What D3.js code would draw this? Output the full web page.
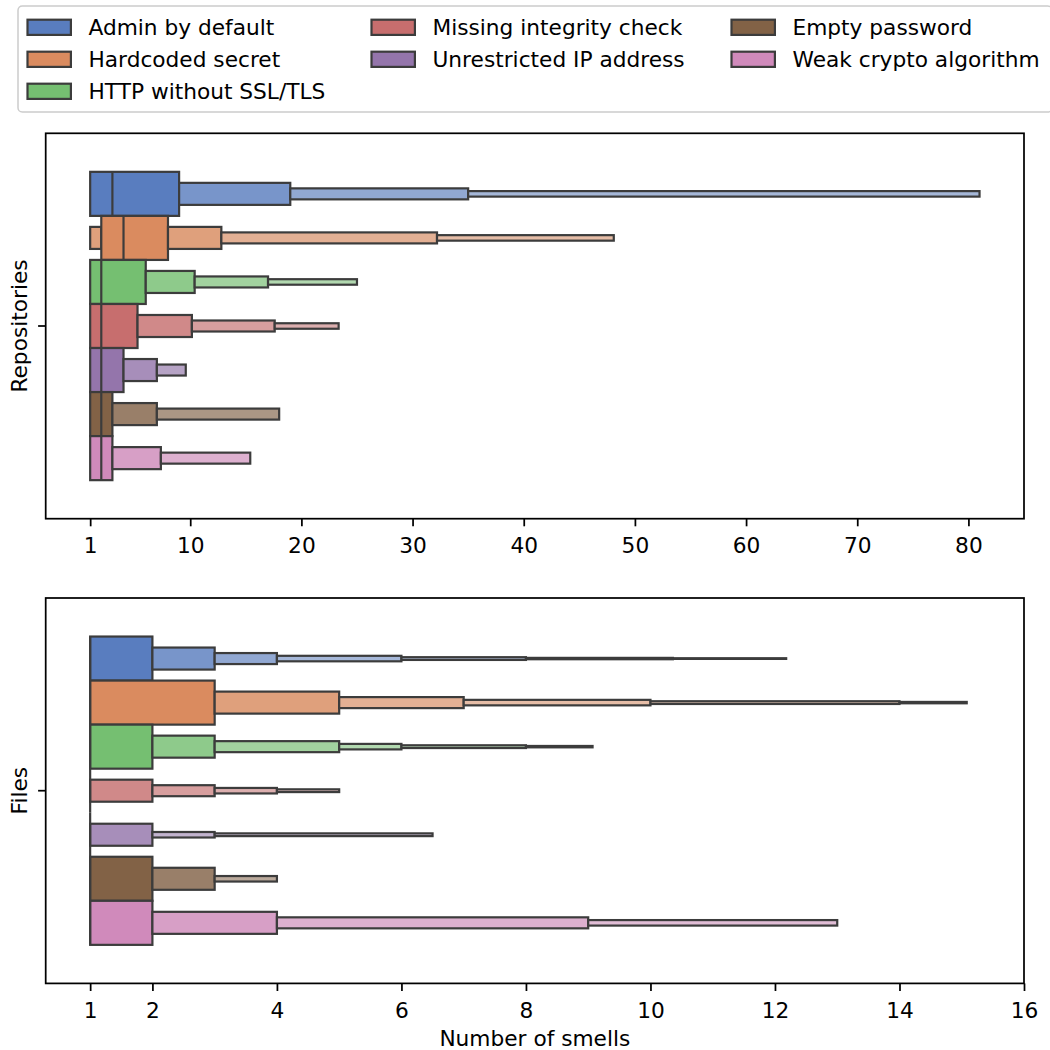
<!DOCTYPE html>
<html><head><meta charset="utf-8">
<script src="https://cdn.jsdelivr.net/npm/d3@7"></script>
<style>
body{margin:0;background:#fff}
svg{display:block}
text{font-family:"DejaVu Sans",sans-serif;fill:#000}
</style>
</head><body>
<svg id="chart" width="1050" height="1050"></svg>
<script>
// ---------------- DATA ----------------
const hueLabels = ["Admin by default","Hardcoded secret","HTTP without SSL/TLS",
  "Missing integrity check","Unrestricted IP address","Empty password","Weak crypto algorithm"];
const paletteHex = ["#4878d0","#ee854a","#6acc64","#d65f5f","#956cb4","#8c613c","#dc7ec0"];

// Repositories panel: letter values (lower: outermost -> Q1, upper: Q3 -> outermost)
const repoMedian = [3, 4, 2, 2, 2, 2, 2];
const repoLower = [[1,1,1,1],[1,1,1,2],[1,1,1,1],[1,1,1,1],[1,1,1],[1,1,1],[1,1,1]];
const repoUpper = [[9,19,35,81],[8,12.8,32.2,48.1],[6,10.4,17,25],[5.26,10.15,17.6,23.35],
  [4,7,9.6],[3,7,18],[3,7.36,15.4]];
const repoTicks = [1,10,20,30,40,50,60,70,80];

// Files panel
const fileMedian = [1, 1, 1, 1, 1, 1, 1];
const fileLower = [[1,1,1,1,1,1,1],[1,1,1,1,1,1],[1,1,1,1,1,1],[1,1,1,1,1],[1,1,1,1,1],[1,1,1,1],[1,1,1,1]];
const fileUpper = [[2,3,4,6,8,10.36,12.18],[3,5,7,10,14,15.08],[2,3,5,6,8,9.07],
  [1,2,3,4,5],[1,2,2,3,6.5],[2,3,3,4],[2,4,9,13]];
const fileTicks = [1,2,4,6,8,10,12,14,16];

const panelLabels = ["Repositories","Files"];
const xLabel = "Number of smells";

// ---------------- COLOR HELPERS ----------------
function desat(hex, p){ const c = d3.hsl(hex); c.s *= p; return c.rgb(); }
const HM=[[3.240969941904521,-1.537383177570093,-0.498610760293],[-0.96924363628087,1.87596750150772,0.041555057407175],[0.055630079696993,-0.20397695888897,1.056971514242878]];
const HMi=[[0.41239079926595,0.35758433938387,0.18048078840183],[0.21263900587151,0.71516867876775,0.072192315360733],[0.019330818715591,0.11919477979462,0.95053215224966]];
const refU=0.19783000664283, refV=0.46831999493879, kappa=903.2962962, eps=0.0088564516;
function bounds(L){const s1=Math.pow(L+16,3)/1560896;const s2=s1>eps?s1:L/kappa;const r=[];
  for(const [m1,m2,m3] of HM){for(const t of [0,1]){
    const top1=(284517*m1-94839*m3)*s2;
    const top2=(838422*m3+769860*m2+731718*m1)*L*s2-769860*t*L;
    const bot=(632260*m3-126452*m2)*s2+126452*t; r.push([top1/bot,top2/bot]);}}
  return r;}
function maxC(L,H){const h=H/360*2*Math.PI;let m=Infinity;
  for(const [sl,ic] of bounds(L)){const len=ic/(Math.sin(h)-sl*Math.cos(h)); if(len>=0)m=Math.min(m,len);} return m;}
function rgb2husl(r,g,b){
  const lin=c=>c>0.04045?Math.pow((c+0.055)/1.055,2.4):c/12.92;
  const R=lin(r),G=lin(g),B=lin(b);
  const X=HMi[0][0]*R+HMi[0][1]*G+HMi[0][2]*B, Y=HMi[1][0]*R+HMi[1][1]*G+HMi[1][2]*B, Z=HMi[2][0]*R+HMi[2][1]*G+HMi[2][2]*B;
  const L=Y<=eps?Y*kappa:116*Math.cbrt(Y)-16;
  const d=X+15*Y+3*Z; const vu=4*X/d, vv=9*Y/d;
  const U=13*L*(vu-refU), V=13*L*(vv-refV);
  const C=Math.hypot(U,V); let H=Math.atan2(V,U)*180/Math.PI; if(H<0)H+=360;
  return [H, C/maxC(L,H)*100, L];}
function husl2rgb(H,S,L){
  const C=maxC(L,H)*S/100; const h=H/180*Math.PI; const U=C*Math.cos(h), V=C*Math.sin(h);
  const vu=U/(13*L)+refU, vv=V/(13*L)+refV;
  const Y=L<=8?L/kappa:Math.pow((L+16)/116,3);
  const X=9*Y*vu/(4*vv); const Z=(9*Y-15*vv*Y-vv*X)/(3*vv);
  const gam=c=>c<=0.0031308?12.92*c:1.055*Math.pow(c,1/2.4)-0.055;
  return HM.map(m=>Math.max(0,Math.min(1,gam(m[0]*X+m[1]*Y+m[2]*Z))));}

const mainColors = paletteHex.map(h => desat(h, 0.75));
const lightGrays = mainColors.map(c => {
  const [H,S] = rgb2husl(c.r/255,c.g/255,c.b/255);
  return husl2rgb(H, 0.15*S, 95).map(v=>v*255);
});
function boxColor(i, d){
  const t = Math.pow(2, -d/3), c = mainColors[i], g = lightGrays[i];
  return d3.rgb(g[0]+(c.r-g[0])*t, g[1]+(c.g-g[1])*t, g[2]+(c.b-g[2])*t).formatHex();
}
// edge gray: min HLS lightness * 0.6
const lineGray = (() => { const l = d3.min(mainColors, c => d3.hsl(c).l) * 0.6; const v = Math.round(l*255); return d3.rgb(v,v,v).formatHex(); })();

// ---------------- LAYOUT ----------------
const svg = d3.select("#chart");
const FS = 21.7, EDGE = 2.2;
const nH = hueLabels.length, slot = 0.8 / nH;
const panels = [
  {top:133.3, bottom:518.7, domain:[-3,85], ticks:repoTicks, med:repoMedian, lo:repoLower, up:repoUpper, label:panelLabels[0]},
  {top:598, bottom:983.4, domain:[0.286,16], ticks:fileTicks, med:fileMedian, lo:fileLower, up:fileUpper, label:panelLabels[1]}
];
const L = 45.7, R = 1024;

panels.forEach((p, pi) => {
  const x = d3.scaleLinear().domain(p.domain).range([L, R]);
  const y = d3.scaleLinear().domain([-0.5, 0.5]).range([p.top, p.bottom]);
  const g = svg.append("g");
  g.append("defs").append("clipPath").attr("id","clip"+pi)
    .append("rect").attr("x",L).attr("y",p.top).attr("width",R-L).attr("height",p.bottom-p.top);
  const plot = g.append("g").attr("clip-path",`url(#clip${pi})`);

  for (let i = 0; i < nH; i++) {
    const center = (i - (nH-1)/2) * slot;
    const vals = p.lo[i].concat(p.up[i]);
    const k = p.lo[i].length;
    const segs = [];
    for (let s = 0; s < vals.length - 1; s++) {
      const d = s < k-1 ? (k-1-s) : (s - (k-1));
      segs.push({lo: vals[s], hi: vals[s+1], d});
    }
    plot.selectAll(null).data(segs.filter(s => s.hi > s.lo)).enter().append("rect")
      .attr("x", s => x(s.lo))
      .attr("width", s => x(s.hi) - x(s.lo))
      .attr("y", s => y(center - slot*Math.pow(2,-s.d)/2))
      .attr("height", s => y(center + slot*Math.pow(2,-s.d)/2) - y(center - slot*Math.pow(2,-s.d)/2))
      .attr("fill", s => boxColor(i, s.d))
      .attr("stroke", lineGray).attr("stroke-width", EDGE);
    // median
    plot.append("line")
      .attr("x1", x(p.med[i])).attr("x2", x(p.med[i]))
      .attr("y1", y(center - slot/2)).attr("y2", y(center + slot/2))
      .attr("stroke", lineGray).attr("stroke-width", EDGE).attr("stroke-linecap","butt");
  }

  // x axis
  const ax = g.append("g").attr("transform", `translate(0,${p.bottom})`)
    .call(d3.axisBottom(x).tickValues(p.ticks).tickFormat(d3.format("d")).tickSize(7.6).tickPadding(7.6));
  ax.select(".domain").remove();
  ax.selectAll(".tick line").attr("stroke","#000").attr("stroke-width",1.74);
  ax.selectAll(".tick text").attr("font-size",FS).attr("font-family","DejaVu Sans").attr("fill","#000").attr("dy","0.9em");
  // y tick
  const yc = y(0);
  g.append("line").attr("x1",L-7.6).attr("x2",L).attr("y1",yc).attr("y2",yc).attr("stroke","#000").attr("stroke-width",1.74);
  // frame
  g.append("rect").attr("x",L).attr("y",p.top).attr("width",R-L).attr("height",p.bottom-p.top)
    .attr("fill","none").attr("stroke","#000").attr("stroke-width",1.74);
  // y label
  g.append("text").attr("transform",`translate(27,${yc}) rotate(-90)`).attr("text-anchor","middle")
    .attr("font-size",FS).text(p.label);
});

// x label
svg.append("text").attr("x", (L+R)/2).attr("y", 1046).attr("text-anchor","middle").attr("font-size",FS).text(xLabel);

// ---------------- LEGEND ----------------
const lg = svg.append("g");
lg.append("rect").attr("x",18).attr("y",6).attr("width",1034).attr("height",106).attr("rx",4.3)
  .attr("fill","#fff").attr("fill-opacity",0.8).attr("stroke","#cccccc").attr("stroke-width",1.5);
const colHandleX = [27.5, 371.5, 731.5], colTextX = [88.5, 432.5, 792.5], rowY = [27.3, 59.3, 91.3];
const perCol = [3, 2, 2];
let idx = 0;
perCol.forEach((n, c) => {
  for (let r = 0; r < n; r++, idx++) {
    lg.append("rect").attr("x", colHandleX[c]).attr("y", rowY[r]-7.6).attr("width", 43.4).attr("height", 15.2)
      .attr("fill", boxColor(idx, 0)).attr("stroke", lineGray).attr("stroke-width", EDGE);
    lg.append("text").attr("x", colTextX[c]).attr("y", rowY[r]+7.6).attr("font-size", FS).text(hueLabels[idx]);
  }
});
</script>
</body></html>
